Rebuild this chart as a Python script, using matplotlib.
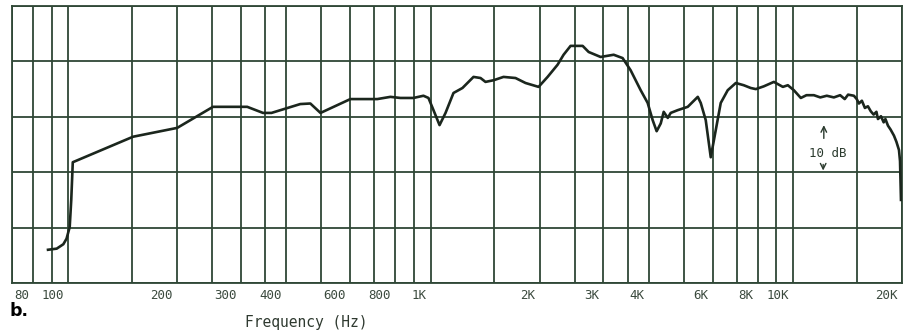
import matplotlib
matplotlib.use("Agg")
import matplotlib.pyplot as plt
from matplotlib.ticker import NullFormatter, NullLocator

# ---- data ----
freq_hz = [88, 93, 97, 99, 101, 102, 103, 151, 200, 251, 312, 345, 364, 437, 466, 497,
           601, 713, 775, 826, 897, 956, 987, 1019, 1059, 1100, 1157, 1225, 1314, 1374,
           1418, 1493, 1590, 1716, 1829, 1987, 2104, 2242, 2329, 2435, 2629, 2731, 2947,
           3202, 3389, 3566, 3801, 3974, 4102, 4207, 4318, 4400, 4515, 4600, 4810, 5126,
           5464, 5568, 5747, 5933, 6125, 6322, 6609, 6958, 7316, 7650, 7900, 8312, 8860,
           9382, 9683, 10059, 10515, 10900, 11424, 11900, 12400, 12973, 13500, 13900,
           14200, 14735, 15000, 15210, 15500, 15800, 16105, 16400, 16700, 17000, 17166,
           17500, 17800, 18000, 18294, 18600, 19004, 19300, 19620, 19750, 19870]
level_db = [6.0, 6.2, 7.0, 8.0, 10.1, 15.0, 21.8, 26.4, 28.0, 31.8, 31.8, 30.7, 30.7, 32.3,
            32.4, 30.7, 33.2, 33.2, 33.6, 33.4, 33.4, 33.8, 33.4, 31.2, 28.5, 30.7, 34.3,
            35.2, 37.2, 37.0, 36.3, 36.6, 37.2, 37.0, 36.1, 35.4, 37.2, 39.4, 41.2, 42.8,
            42.8, 41.7, 40.8, 41.2, 40.6, 38.4, 34.8, 32.5, 29.4, 27.4, 28.8, 30.9, 29.8,
            30.7, 31.2, 31.8, 33.6, 32.5, 29.4, 22.7, 27.6, 32.5, 34.8, 36.1, 35.7, 35.2,
            35.0, 35.5, 36.3, 35.4, 35.7, 34.8, 33.4, 33.9, 33.9, 33.5, 33.8, 33.5, 33.9,
            33.2, 34.0, 33.8, 33.2, 32.4, 32.9, 31.6, 31.9, 31.0, 30.4, 30.9, 29.6, 30.1,
            29.0, 29.6, 28.4, 27.7, 26.6, 25.5, 24.0, 22.0, 15.0]

grid_freqs = [70, 80, 90, 100, 150, 200, 250, 300, 350, 400, 500, 600, 700, 800, 900,
              1000, 1500, 2000, 2500, 3000, 3500, 4000, 5000, 6000, 7000, 8000, 9000,
              10000, 15000, 20000]
grid_db = [0, 10, 20, 30, 40, 50]
label_freqs = [80, 100, 200, 300, 400, 600, 800, 1000, 2000, 3000, 4000, 6000, 8000,
               10000, 20000]
label_texts = ["80", "100", "200", "300", "400", "600", "800", "1K", "2K", "3K", "4K",
               "6K", "8K", "10K", "20K"]

W, H = 904, 336
fig = plt.figure(figsize=(W / 100, H / 100), dpi=100)
fig.patch.set_facecolor("white")
ax = fig.add_axes([12 / W, 53 / H, 890 / W, 277 / H])
ax.set_xscale("log")
ax.set_xlim(70, 20000)
ax.set_ylim(0, 50)

grid_col = "#2f4736"
ax.set_xticks(grid_freqs)
ax.xaxis.set_minor_locator(NullLocator())
ax.xaxis.set_major_formatter(NullFormatter())
ax.xaxis.set_minor_formatter(NullFormatter())
ax.set_yticks(grid_db)
ax.yaxis.set_major_formatter(NullFormatter())
ax.tick_params(length=0)
ax.grid(True, color=grid_col, linewidth=1.3)
for s in ax.spines.values():
    s.set_color(grid_col)
    s.set_linewidth(1.3)

ax.plot(freq_hz, level_db, color="#1b261d", linewidth=1.9, solid_joinstyle="round",
        zorder=3)

mono = "DejaVu Sans Mono"
for f, t in zip(label_freqs, label_texts):
    ax.annotate(t, xy=(f, 0), xycoords=("data", "axes fraction"),
                xytext=(-3, -4), textcoords="offset points",
                ha="right", va="top", fontsize=9, family=mono, color="#3b4a3e")

# 10 dB marker
ax.text(12500, 23.4, "10 dB", ha="center", va="center", fontsize=9,
        family=mono, color="#2a3a2d")
ax.annotate("", xy=(12170, 29.0), xytext=(12170, 25.6),
            arrowprops=dict(arrowstyle="->", color="#2a3a2d", lw=1.0))
ax.annotate("", xy=(12120, 19.8), xytext=(12120, 21.9),
            arrowprops=dict(arrowstyle="->", color="#2a3a2d", lw=1.0))

fig.text(306 / W, 1 - 322 / H, "Frequency (Hz)", ha="center", va="center",
         fontsize=10.5, family=mono, color="#2f3a30")
fig.text(10 / W, 1 - 311 / H, "b.", ha="left", va="center", fontsize=12.5,
         fontweight="bold", color="black")

fig.savefig("out.png", dpi=100)
